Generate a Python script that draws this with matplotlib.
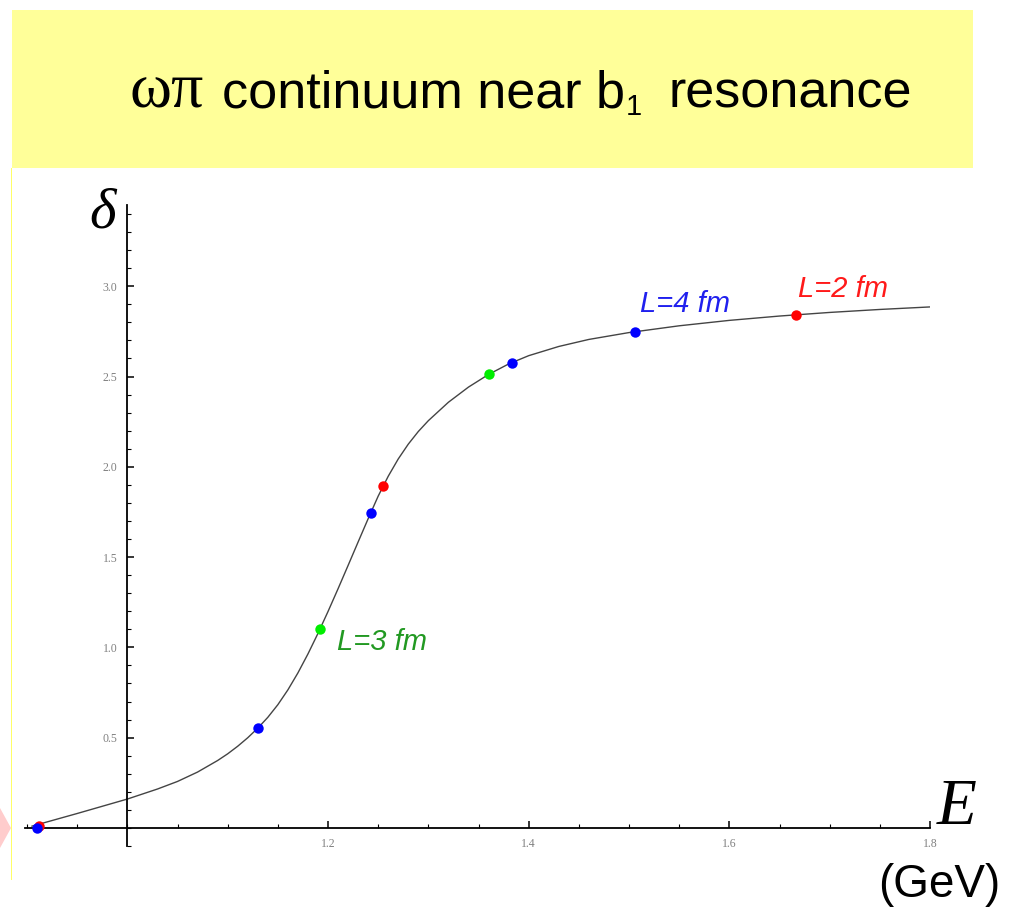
import matplotlib
matplotlib.use('Agg')
import matplotlib.pyplot as plt
from matplotlib.patches import Rectangle, Polygon
from matplotlib.ticker import FixedLocator, FormatStrFormatter

# phase shift curve (E in GeV, delta in rad)
curve_E = [0.905, 0.95, 1.00, 1.03, 1.05, 1.07, 1.09, 1.10, 1.11, 1.12, 1.13,
           1.14, 1.15, 1.16, 1.17, 1.18, 1.19, 1.20, 1.21, 1.22, 1.23, 1.24,
           1.25, 1.26, 1.27, 1.28, 1.29, 1.30, 1.32, 1.34, 1.36, 1.38, 1.40,
           1.43, 1.46, 1.50, 1.55, 1.60, 1.65, 1.70, 1.75, 1.80]
curve_delta = [0.01, 0.08, 0.16, 0.2155, 0.2575, 0.3095, 0.3735, 0.4105, 0.4525,
               0.4995, 0.5525, 0.6125, 0.6825, 0.7645, 0.8585, 0.9635, 1.0775,
               1.1985, 1.3245, 1.4535, 1.5835, 1.7125, 1.8375, 1.9475, 2.0435,
               2.1255, 2.1955, 2.2555, 2.3575, 2.4415, 2.5115, 2.5695, 2.6155,
               2.6665, 2.7055, 2.7435, 2.781, 2.811, 2.835, 2.855, 2.8715, 2.8855]

# lattice levels for each box size
L2_E = [0.912, 1.255, 1.666]
L2_delta = [0.012, 1.893, 2.843]
L3_E = [1.192, 1.360]
L3_delta = [1.10, 2.515]
L4_E = [0.910, 1.130, 1.243, 1.383, 1.506]
L4_delta = [0.0, 0.553, 1.745, 2.575, 2.748]

fig = plt.figure(figsize=(10.15, 9.07), dpi=100)
W, H = 1015, 907

# header box
fig.patches.append(Rectangle((12 / W, 1 - 168 / H), (973 - 12) / W, 158 / H,
                             transform=fig.transFigure, facecolor='#ffff99',
                             edgecolor='none', zorder=0))
fig.patches.append(Rectangle((11 / W, 1 - 880 / H), 1.2 / W, (880 - 168) / H,
                             transform=fig.transFigure, facecolor='#ffff66',
                             edgecolor='none', zorder=0))
fig.patches.append(Polygon([(0, 1 - 808 / H), (11 / W, 1 - 828 / H), (0, 1 - 848 / H)],
                           closed=True, transform=fig.transFigure,
                           facecolor='#ffcccc', edgecolor='none', zorder=0))

base = 1 - 107 / H
fig.text(130 / W, base, 'ωπ', fontsize=46, family='Liberation Serif',
         va='baseline', ha='left')
sans = dict(fontsize=37.5, family='Liberation Sans', va='baseline')
head = fig.text(222 / W, base, 'continuum near b', ha='left', **sans)
r = fig.canvas.get_renderer()
bx = head.get_window_extent(r).x1
fig.text((bx + 1) / W, 1 - 115 / H, '1', fontsize=21, family='Liberation Sans',
         va='baseline', ha='left')
fig.text(912 / W, base, 'resonance', ha='right', **sans)

ax = fig.add_axes([25 / W, 1 - 846 / H, 905 / W, (846 - 205) / H])
ax.set_xlim(0.898, 1.8)
ax.set_ylim(-0.1, 3.45)

ax.plot(curve_E, curve_delta, color='#444444', lw=1.0, zorder=2)
ax.plot(L2_E, L2_delta, 'o', color='#ff0000', ms=7.5, mec='none', zorder=3, clip_on=False)
ax.plot(L3_E, L3_delta, 'o', color='#00ee00', ms=7.5, mec='none', zorder=3, clip_on=False)
ax.plot(L4_E, L4_delta, 'o', color='#0000ff', ms=7.5, mec='none', zorder=4, clip_on=False)

lab = dict(fontsize=21, style='italic', family='Liberation Sans', va='baseline', ha='left')
ax.text(1.511, 2.857, 'L=4 fm', color='#2020ee', **lab)
ax.text(1.668, 2.94, 'L=2 fm', color='#ff1a1a', **lab)
ax.text(1.209, 0.985, 'L=3 fm', color='#229922', **lab)

# axes crossing at (1.0, 0)
for s in ['top', 'right']:
    ax.spines[s].set_visible(False)
ax.spines['left'].set_position(('data', 1.0))
ax.spines['bottom'].set_position(('data', 0.0))
for s in ['left', 'bottom']:
    ax.spines[s].set_linewidth(1.3)

ax.xaxis.set_major_locator(FixedLocator([1.2, 1.4, 1.6, 1.8]))
ax.xaxis.set_minor_locator(FixedLocator([0.9 + 0.05 * i for i in range(18)]))
ax.yaxis.set_major_locator(FixedLocator([0.5, 1.0, 1.5, 2.0, 2.5, 3.0]))
ax.yaxis.set_minor_locator(FixedLocator([0.1 * i for i in range(-1, 35)]))
ax.xaxis.set_major_formatter(FormatStrFormatter('%.1f'))
ax.yaxis.set_major_formatter(FormatStrFormatter('%.1f'))
ax.tick_params(which='major', direction='in', length=5, width=1.1,
               labelsize=8.5, labelcolor='#808080', pad=7)
ax.tick_params(which='minor', direction='in', length=3, width=0.8)
for t in ax.get_xticklabels() + ax.get_yticklabels():
    t.set_family('Liberation Serif')

fig.text(103 / W, 1 - 228 / H, 'δ', fontsize=41, style='italic',
         family='Liberation Serif', ha='center', va='baseline')
fig.text(937 / W, 1 - 824 / H, 'E', fontsize=47, style='italic',
         family='Liberation Serif', ha='left', va='baseline')
fig.text(1000 / W, 1 - 897 / H, '(GeV)', fontsize=33, family='Liberation Sans',
         ha='right', va='baseline')

fig.savefig('out.png', dpi=100)
